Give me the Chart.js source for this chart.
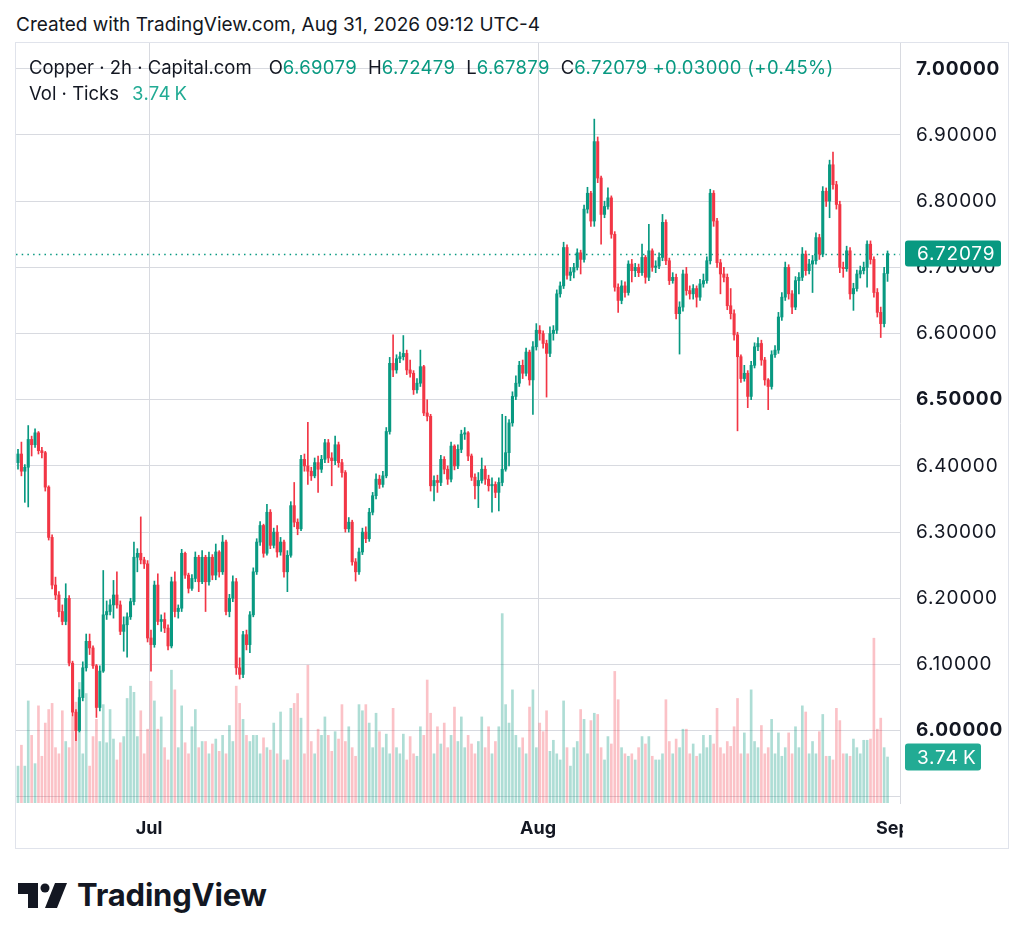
<!DOCTYPE html>
<html><head><meta charset="utf-8">
<script src="https://cdn.jsdelivr.net/npm/chart.js@4.4.1/dist/chart.umd.min.js"></script>
<style>
html,body{margin:0;padding:0;background:#fff;}
body{width:1024px;height:944px;position:relative;overflow:hidden;font-family:Inter,"Noto Sans",sans-serif;color:#131722;}
#created{position:absolute;left:16px;top:15px;font-size:19px;line-height:19px;white-space:nowrap;}
#frame{position:absolute;left:15px;top:42px;width:992px;height:805px;border:1px solid #e0e3eb;}
#frame canvas{display:block;}
.lg{position:absolute;left:29px;font-size:18.5px;line-height:18.5px;white-space:nowrap;}
.lg span{margin-left:11px;}
.lg span.f{margin-left:0;}
.n{letter-spacing:0.35px;}
.g{color:#089981;}
.v{color:#22ab94;}
#logo{position:absolute;left:18px;top:883px;}
#logoText{position:absolute;left:77px;top:879px;font-size:31px;line-height:31px;font-weight:700;letter-spacing:-0.2px;}
</style></head>
<body>
<div id="created">Created with TradingView.com, Aug 31, 2026 09:12 UTC-4</div>
<div id="frame"><canvas id="c" width="992" height="805"></canvas></div>
<div class="lg" id="lg1" style="top:58px"></div>
<div class="lg" id="lg2" style="top:84px"></div>
<svg id="logo" width="52" height="26" viewBox="0 0 52 26"><path d="M0 0H20V25H10V11H0Z" fill="#131722"/><circle cx="27" cy="5" r="4.5" fill="#131722"/><path d="M37 0H49L39 25H27Z" fill="#131722"/></svg>
<div id="logoText">TradingView</div>
<script>
// ---- data (2h candles) ----
const closes = [6.418,6.392,6.398,6.440,6.432,6.450,6.423,6.420,6.368,6.292,
 6.220,6.205,6.180,6.165,6.200,6.102,6.028,6.000,6.050,6.095,
 6.135,6.125,6.098,6.035,6.090,6.175,6.180,6.190,6.205,6.190,
 6.150,6.160,6.172,6.195,6.262,6.268,6.258,6.252,6.140,6.130,
 6.220,6.165,6.168,6.155,6.128,6.225,6.180,6.185,6.268,6.235,
 6.215,6.230,6.262,6.225,6.262,6.225,6.262,6.235,6.270,6.240,
 6.285,6.180,6.200,6.225,6.095,6.085,6.145,6.130,6.175,6.240,
 6.285,6.310,6.268,6.330,6.280,6.300,6.270,6.285,6.240,6.265,
 6.340,6.315,6.305,6.410,6.400,6.392,6.385,6.405,6.395,6.410,
 6.435,6.412,6.408,6.432,6.405,6.390,6.305,6.315,6.255,6.240,
 6.270,6.300,6.290,6.330,6.355,6.380,6.372,6.385,6.452,6.555,
 6.545,6.562,6.565,6.570,6.545,6.540,6.515,6.525,6.550,6.480,
 6.475,6.370,6.378,6.375,6.410,6.395,6.380,6.430,6.400,6.425,
 6.448,6.450,6.415,6.383,6.370,6.378,6.395,6.380,6.370,6.372,
 6.360,6.375,6.395,6.420,6.465,6.505,6.525,6.552,6.540,6.572,
 6.530,6.580,6.605,6.600,6.585,6.570,6.600,6.605,6.660,6.672,
 6.730,6.688,6.693,6.700,6.722,6.712,6.788,6.812,6.770,6.890,
 6.835,6.780,6.792,6.805,6.750,6.670,6.650,6.672,6.662,6.705,
 6.695,6.700,6.692,6.715,6.685,6.725,6.700,6.702,6.715,6.768,
 6.710,6.680,6.685,6.630,6.640,6.690,6.665,6.660,6.668,6.655,
 6.675,6.680,6.710,6.812,6.770,6.707,6.690,6.685,6.642,6.630,
 6.598,6.565,6.532,6.540,6.505,6.552,6.580,6.585,6.560,6.530,
 6.520,6.568,6.575,6.625,6.655,6.700,6.660,6.640,6.680,6.685,
 6.720,6.695,6.705,6.710,6.745,6.720,6.815,6.800,6.855,6.825,
 6.795,6.700,6.698,6.725,6.660,6.668,6.690,6.695,6.700,6.735,
 6.712,6.662,6.632,6.615,6.69079,6.72079];

const opens = [6.405,6.418,6.392,6.398,6.440,6.432,6.450,6.423,6.420,6.368,
 6.292,6.220,6.205,6.180,6.165,6.200,6.102,6.028,6.000,6.050,
 6.095,6.135,6.125,6.098,6.035,6.090,6.175,6.180,6.190,6.205,
 6.190,6.150,6.160,6.172,6.195,6.262,6.268,6.258,6.252,6.140,
 6.130,6.220,6.165,6.168,6.155,6.128,6.225,6.180,6.185,6.268,
 6.235,6.215,6.230,6.262,6.225,6.262,6.225,6.262,6.235,6.270,
 6.240,6.285,6.180,6.200,6.225,6.095,6.085,6.145,6.130,6.175,
 6.240,6.285,6.310,6.268,6.330,6.280,6.300,6.270,6.285,6.240,
 6.265,6.340,6.315,6.305,6.410,6.400,6.392,6.385,6.405,6.395,
 6.410,6.435,6.412,6.408,6.432,6.405,6.390,6.305,6.315,6.255,
 6.240,6.270,6.300,6.290,6.330,6.355,6.380,6.372,6.385,6.452,
 6.555,6.545,6.562,6.565,6.570,6.545,6.540,6.515,6.525,6.550,
 6.480,6.475,6.370,6.378,6.375,6.410,6.395,6.380,6.430,6.400,
 6.425,6.448,6.450,6.415,6.383,6.370,6.378,6.395,6.380,6.370,
 6.372,6.360,6.375,6.395,6.420,6.465,6.505,6.525,6.552,6.540,
 6.572,6.530,6.580,6.605,6.600,6.585,6.570,6.600,6.605,6.660,
 6.672,6.730,6.688,6.693,6.700,6.722,6.712,6.788,6.812,6.770,
 6.890,6.835,6.780,6.792,6.805,6.750,6.670,6.650,6.672,6.662,
 6.705,6.695,6.700,6.692,6.715,6.685,6.725,6.700,6.702,6.715,
 6.768,6.710,6.680,6.685,6.630,6.640,6.690,6.665,6.660,6.668,
 6.655,6.675,6.680,6.710,6.812,6.770,6.707,6.690,6.685,6.642,
 6.630,6.598,6.565,6.532,6.540,6.505,6.552,6.580,6.585,6.560,
 6.530,6.520,6.568,6.575,6.625,6.655,6.700,6.660,6.640,6.680,
 6.685,6.720,6.695,6.705,6.710,6.745,6.720,6.815,6.800,6.855,
 6.825,6.795,6.700,6.698,6.725,6.660,6.668,6.690,6.695,6.700,
 6.735,6.712,6.662,6.632,6.615,6.69079];

const highs = [6.425,6.436,6.402,6.461,6.445,6.456,6.452,6.428,6.422,6.370,
 6.296,6.232,6.210,6.190,6.222,6.204,6.105,6.032,6.062,6.104,
 6.146,6.146,6.128,6.100,6.098,6.242,6.196,6.198,6.227,6.240,
 6.196,6.172,6.178,6.200,6.285,6.275,6.323,6.262,6.257,6.152,
 6.226,6.237,6.175,6.178,6.160,6.232,6.240,6.190,6.274,6.270,
 6.238,6.236,6.270,6.265,6.272,6.265,6.270,6.266,6.282,6.272,
 6.295,6.288,6.206,6.234,6.230,6.110,6.150,6.152,6.180,6.246,
 6.290,6.316,6.312,6.342,6.334,6.306,6.310,6.292,6.288,6.272,
 6.346,6.375,6.320,6.416,6.418,6.466,6.398,6.412,6.415,6.416,
 6.440,6.440,6.420,6.445,6.436,6.410,6.393,6.322,6.318,6.260,
 6.276,6.306,6.308,6.336,6.360,6.388,6.386,6.392,6.458,6.564,
 6.598,6.568,6.572,6.597,6.575,6.560,6.544,6.532,6.575,6.552,
 6.500,6.478,6.385,6.386,6.416,6.414,6.400,6.436,6.432,6.432,
 6.454,6.458,6.452,6.418,6.388,6.390,6.412,6.400,6.386,6.382,
 6.376,6.382,6.478,6.475,6.470,6.512,6.536,6.558,6.560,6.578,
 6.575,6.588,6.615,6.612,6.604,6.590,6.610,6.612,6.666,6.678,
 6.738,6.734,6.700,6.706,6.728,6.726,6.794,6.821,6.815,6.924,
 6.897,6.838,6.800,6.820,6.808,6.754,6.675,6.680,6.678,6.710,
 6.712,6.706,6.705,6.735,6.718,6.765,6.728,6.710,6.722,6.780,
 6.772,6.714,6.692,6.690,6.648,6.696,6.700,6.672,6.674,6.672,
 6.682,6.690,6.716,6.818,6.816,6.774,6.712,6.700,6.690,6.668,
 6.636,6.602,6.568,6.552,6.544,6.558,6.586,6.594,6.590,6.564,
 6.532,6.574,6.582,6.632,6.662,6.708,6.704,6.665,6.686,6.692,
 6.730,6.725,6.712,6.718,6.752,6.750,6.822,6.820,6.862,6.874,
 6.830,6.800,6.708,6.732,6.730,6.676,6.696,6.702,6.708,6.740,
 6.740,6.716,6.668,6.640,6.700,6.72479];

const lows = [6.395,6.385,6.345,6.338,6.415,6.428,6.418,6.412,6.362,6.288,
 6.214,6.198,6.172,6.160,6.160,6.098,6.022,5.985,5.998,6.045,
 6.090,6.115,6.094,6.020,6.030,6.088,6.168,6.175,6.170,6.185,
 6.145,6.120,6.111,6.168,6.190,6.240,6.252,6.245,6.134,6.090,
 6.126,6.160,6.150,6.148,6.122,6.125,6.172,6.170,6.180,6.230,
 6.208,6.212,6.225,6.210,6.222,6.180,6.220,6.228,6.228,6.232,
 6.236,6.175,6.172,6.195,6.085,6.078,6.080,6.122,6.118,6.172,
 6.236,6.280,6.262,6.265,6.275,6.276,6.262,6.265,6.232,6.210,
 6.262,6.308,6.296,6.302,6.392,6.372,6.378,6.382,6.360,6.390,
 6.405,6.405,6.370,6.402,6.398,6.383,6.300,6.300,6.250,6.226,
 6.236,6.266,6.284,6.286,6.326,6.350,6.366,6.368,6.382,6.448,
 6.535,6.540,6.556,6.560,6.538,6.534,6.508,6.510,6.520,6.476,
 6.468,6.362,6.347,6.360,6.370,6.388,6.372,6.376,6.394,6.396,
 6.420,6.440,6.408,6.378,6.350,6.337,6.374,6.372,6.362,6.330,
 6.352,6.332,6.370,6.392,6.400,6.460,6.500,6.520,6.532,6.536,
 6.522,6.478,6.575,6.590,6.578,6.504,6.565,6.590,6.600,6.655,
 6.668,6.682,6.680,6.684,6.696,6.690,6.708,6.782,6.762,6.762,
 6.828,6.735,6.775,6.788,6.744,6.664,6.632,6.645,6.655,6.658,
 6.678,6.686,6.686,6.688,6.676,6.680,6.694,6.692,6.698,6.710,
 6.704,6.674,6.676,6.622,6.569,6.634,6.658,6.652,6.652,6.640,
 6.650,6.670,6.676,6.705,6.762,6.700,6.660,6.678,6.636,6.622,
 6.590,6.453,6.526,6.528,6.488,6.500,6.548,6.574,6.552,6.522,
 6.485,6.516,6.564,6.570,6.620,6.650,6.652,6.630,6.636,6.660,
 6.680,6.688,6.690,6.662,6.705,6.712,6.716,6.792,6.775,6.818,
 6.788,6.692,6.685,6.694,6.652,6.635,6.664,6.684,6.690,6.670,
 6.705,6.655,6.625,6.594,6.610,6.67879];

// volume in thousands of ticks
const volumesK = [3.0,4.7,3.0,8.3,5.5,3.2,7.9,3.8,6.5,7.6,
 8.1,4.5,4.0,7.5,5.0,4.5,7.0,8.2,9.8,4.0,
 8.9,3.0,5.4,6.8,5.0,8.0,4.9,7.6,5.2,3.5,
 4.9,5.4,8.5,9.5,9.0,5.4,7.5,4.0,6.0,9.9,
 8.3,6.0,7.0,4.5,3.5,10.8,9.2,4.5,7.9,4.9,
 4.0,6.2,7.6,4.5,5.0,5.0,4.0,4.8,5.2,4.2,
 5.5,4.0,6.3,5.0,9.5,8.1,6.8,5.5,5.0,5.5,
 5.5,4.0,5.3,4.5,4.3,6.5,4.0,7.4,3.5,3.5,
 7.7,8.1,8.9,6.9,4.0,11.2,5.0,4.0,6.0,5.5,
 7.0,5.5,4.2,5.8,5.2,8.0,5.0,6.2,4.5,3.8,
 8.0,7.5,8.0,6.5,4.5,7.3,5.8,4.5,5.6,4.0,
 7.7,4.5,4.0,5.6,3.5,5.4,4.0,3.8,6.2,5.5,
 10.0,7.3,4.0,6.2,4.8,6.5,4.5,5.5,7.8,5.0,
 7.0,4.5,5.5,4.8,4.0,5.0,7.0,4.5,6.2,4.0,
 5.0,6.2,15.4,8.0,6.5,9.2,5.5,4.5,5.3,4.0,
 7.8,9.2,4.5,6.5,5.8,7.5,4.2,5.1,4.0,3.5,
 8.3,4.5,3.0,4.5,5.0,7.6,6.8,4.0,6.7,7.3,
 7.2,4.5,3.5,5.4,4.8,10.7,8.4,4.5,4.0,3.8,
 4.0,3.5,4.5,5.4,4.8,5.4,3.8,3.5,3.5,4.0,
 8.4,5.0,4.0,5.2,4.5,6.0,6.0,4.0,4.8,3.8,
 4.0,5.5,4.5,5.5,4.8,7.7,4.5,4.0,5.0,4.6,
 6.2,8.5,4.0,5.7,4.0,9.2,5.0,4.5,6.3,4.0,
 4.5,6.8,4.0,5.7,3.8,4.5,5.7,4.0,6.2,4.5,
 7.9,7.4,4.0,5.0,4.0,5.8,7.2,3.8,3.8,3.5,
 7.7,6.7,4.0,4.0,3.8,5.2,4.5,4.0,5.1,5.1,
 5.2,13.4,6.0,6.9,4.5,3.74];

const xTickLabels = ['Jul', 'Aug', 'Sep'];
const xTickPos = [38.42, 152.5, 256.6];          // candle-index position of month starts
const priceTicks = [5.9, 6.0, 6.1, 6.2, 6.3, 6.4, 6.5, 6.6, 6.7, 6.8, 6.9, 7.0];
const boldTicks = [6.0, 6.5, 7.0];

const symbolText = 'Copper · 2h · Capital.com';
const volText = 'Vol · Ticks';

// ---- styling / layout constants ----
const UP = '#089981', DOWN = '#F23645';
const VOL_UP = 'rgba(8,153,129,0.33)', VOL_DOWN = 'rgba(242,54,69,0.30)';
const GRID = '#d8dae0';
const FONT = 'Inter, "Noto Sans", sans-serif';
const X_MIN = -0.587, X_MAX = 258.65;
const Y_MIN = 5.8907, Y_MAX = 7.039;
const V_MAX = 61.8;

const N = closes.length;
const isUp = closes.map((c, i) => c >= opens[i]);
const candleColors = isUp.map(u => u ? UP : DOWN);
const volColors = isUp.map(u => u ? VOL_UP : VOL_DOWN);
const wickData = closes.map((_, i) => ({x: i, y: [lows[i], highs[i]]}));
const bodyData = closes.map((_, i) => ({x: i, y: [opens[i], closes[i]]}));
const volData = volumesK.map((v, i) => ({x: i, y: v}));

// ---- legend text from the data ----
const last = N - 1;
const f5 = v => v.toFixed(5);
const chg = closes[last] - closes[last - 1];
const pct = chg / closes[last - 1] * 100;
const sign = v => (v >= 0 ? '+' : '−');
const num = (v, cls) => `<b class="${cls} n" style="font-weight:400">${v}</b>`;
document.getElementById('lg1').innerHTML =
  `<span class="f">${symbolText}</span><span style="margin-left:17px">O${num(f5(opens[last]),'g')}</span>` +
  `<span>H${num(f5(highs[last]),'g')}</span>` +
  `<span>L${num(f5(lows[last]),'g')}</span>` +
  `<span>C${num(f5(closes[last]),'g')}</span>` +
  `<span style="margin-left:5px">${num(sign(chg) + Math.abs(chg).toFixed(5) + ' (' + sign(pct) + Math.abs(pct).toFixed(2) + '%)','g')}</span>`;
document.getElementById('lg2').innerHTML =
  `<span class="f">${volText}</span><span style="margin-left:13px">${num(volumesK[last].toFixed(2) + '\u2009K','v')}</span>`;

// ---- overlay plugin: last-price line, axis labels, month labels ----
function roundRect(ctx, x, y, w, h, r) {
  ctx.beginPath();
  ctx.moveTo(x + r, y); ctx.lineTo(x + w - r, y); ctx.quadraticCurveTo(x + w, y, x + w, y + r);
  ctx.lineTo(x + w, y + h - r); ctx.quadraticCurveTo(x + w, y + h, x + w - r, y + h);
  ctx.lineTo(x + r, y + h); ctx.quadraticCurveTo(x, y + h, x, y + h - r);
  ctx.lineTo(x, y + r); ctx.quadraticCurveTo(x, y, x + r, y); ctx.closePath();
}
const overlay = {
  id: 'overlay',
  beforeDraw(chart) { chart.ctx.letterSpacing = '0.8px'; },
  beforeDatasetsDraw(chart) {
    const {ctx, chartArea: a, scales: {y}} = chart;
    const py = Math.round(y.getPixelForValue(closes[last])) + 0.5;
    ctx.save();
    ctx.strokeStyle = UP; ctx.lineWidth = 1.5; ctx.setLineDash([1.5, 4.2]);
    ctx.beginPath(); ctx.moveTo(a.left, py); ctx.lineTo(a.right, py); ctx.stroke();
    ctx.restore();
  },
  afterDraw(chart) {
    const {ctx, chartArea: a, scales: {x, y, yv}} = chart;
    ctx.save();
    ctx.letterSpacing = '0.8px';
    // price label
    const py = y.getPixelForValue(closes[last]);
    ctx.fillStyle = UP;
    roundRect(ctx, a.right + 5, py - 13, 96, 26, 3); ctx.fill();
    ctx.fillStyle = '#fff'; ctx.font = `19px ${FONT}`; ctx.textBaseline = 'middle'; ctx.textAlign = 'left';
    ctx.fillText(f5(closes[last]), a.right + 17, py + 1);
    // volume label
    const vy = yv.getPixelForValue(volumesK[last]);
    ctx.fillStyle = '#22ab94';
    roundRect(ctx, a.right + 5, vy - 13.5, 76, 27, 3); ctx.fill();
    ctx.fillStyle = '#fff';
    ctx.fillText(volumesK[last].toFixed(2) + '\u2009K', a.right + 17, vy + 1);
    // month labels (clipped at the price-axis edge)
    ctx.letterSpacing = '0px';
    ctx.beginPath(); ctx.rect(0, a.bottom, a.right + 3, 45); ctx.clip();
    ctx.fillStyle = '#131722'; ctx.font = `bold 18px ${FONT}`; ctx.textAlign = 'center';
    xTickLabels.forEach((t, i) => ctx.fillText(t, x.getPixelForValue(xTickPos[i]), a.bottom + 26));
    ctx.restore();
    ctx.letterSpacing = '0px';
  }
};

new Chart(document.getElementById('c'), {
  type: 'bar',
  data: {
    datasets: [
      {data: volData, yAxisID: 'yv', backgroundColor: volColors, barThickness: 2, grouped: false, order: 3},
      {data: wickData, yAxisID: 'y', backgroundColor: candleColors, barThickness: 1, grouped: false, order: 2},
      {data: bodyData, yAxisID: 'y', backgroundColor: candleColors, barThickness: 2.4, minBarLength: 1, grouped: false, order: 1}
    ]
  },
  options: {
    responsive: false, animation: false,
    layout: {padding: 0, autoPadding: false},
    plugins: {legend: {display: false}, tooltip: {enabled: false}},
    scales: {
      x: {
        type: 'linear', min: X_MIN, max: X_MAX, offset: false,
        afterBuildTicks: s => { s.ticks = xTickPos.map(v => ({value: v})); },
        afterFit: s => { s.height = 45; s.paddingLeft = 0; s.paddingRight = 0; },
        grid: {offset: false, color: c => (c.tick && c.tick.value > 250) ? 'rgba(0,0,0,0)' : GRID, drawTicks: false, lineWidth: 1},
        border: {display: false},
        ticks: {display: false}
      },
      y: {
        position: 'right', min: Y_MIN, max: Y_MAX,
        afterBuildTicks: s => { s.ticks = priceTicks.map(v => ({value: v})); },
        afterFit: s => { s.width = 108; s.paddingTop = 0; s.paddingBottom = 0; },
        grid: {color: GRID, drawTicks: false, lineWidth: 1},
        border: {display: true, color: GRID},
        ticks: {
          padding: 16, color: '#131722', autoSkip: false,
          font: c => ({family: FONT, size: 19, weight: (c.tick && boldTicks.some(b => Math.abs(b - c.tick.value) < 1e-6)) ? 'bold' : 'normal'}),
          callback: v => (v < 5.95 ? '' : Number(v).toFixed(5))
        }
      },
      yv: {display: false, min: 0, max: V_MAX}
    }
  },
  plugins: [overlay]
});
</script>
</body></html>
